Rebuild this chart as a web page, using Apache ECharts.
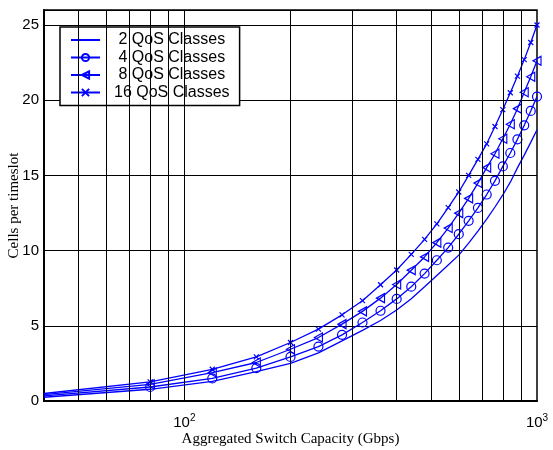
<!DOCTYPE html>
<html><head><meta charset="utf-8">
<script src="https://cdn.jsdelivr.net/npm/echarts@6/dist/echarts.min.js"></script>
<style>html,body{margin:0;padding:0;background:#fff}#c{width:553px;height:450px}</style>
</head><body><div id="c"></div>
<script>
// Aggregated switch capacity (Gbps)
const capacity = [40,80,120,160,200,240,280,320,360,400,440,480,520,560,600,640,680,720,760,800,840,880,920,960,1000];
// Cells per timeslot
const qos2  = [0.25,0.78,1.3,1.95,2.5,3.2,4.0,4.7,5.35,6.05,6.8,7.6,8.35,9.05,9.7,10.5,11.3,12.1,12.9,13.7,14.55,15.5,16.35,17.2,18.04];
const qos4  = [0.34,0.93,1.5,2.18,2.93,3.62,4.4,5.22,6.0,6.79,7.6,8.47,9.36,10.2,11.09,11.98,12.84,13.73,14.64,15.6,16.49,17.4,18.33,19.29,20.24];
const qos8  = [0.42,1.11,1.89,2.56,3.44,4.22,5.11,5.96,6.84,7.75,8.7,9.58,10.53,11.5,12.49,13.47,14.49,15.52,16.44,17.44,18.4,19.44,20.53,21.56,22.62];
const qos16 = [0.5,1.27,2.11,2.93,3.89,4.78,5.73,6.67,7.73,8.71,9.75,10.75,11.78,12.86,13.9,15.0,16.07,17.1,18.25,19.38,20.5,21.6,22.7,23.84,25.0];
const seriesNames = ['2 QoS Classes','4 QoS Classes','8 QoS Classes','16 QoS Classes'];
const xGridValues = [50,60,70,80,90,100,200,300,400,500,600,700,800,900];

const BLUE = '#0000ff';
const sans = 'Liberation Sans';
const serif = 'Liberation Serif';

function pts(vals){
  return capacity.map((x,i)=> i===0 ? {value:[x,vals[i]], symbol:'none'} : [x, vals[i]]);
}
function mk(name, vals, symbol, size, show){
  return {
    name: name, type:'line', data: pts(vals),
    symbol: symbol, symbolSize: size, showSymbol: show,
    lineStyle:{color:BLUE, width:1.3},
    itemStyle:{color:'rgba(0,0,0,0)', borderColor:BLUE, borderWidth: show ? 1.2 : 0},
    z: 3
  };
}

const chart = echarts.init(document.getElementById('c'), null, {renderer:'canvas'});
chart.setOption({
  animation:false,
  backgroundColor:'#fff',
  grid:{left:44, right:16, top:10, bottom:49, outerBoundsMode:'none', containLabel:false,
        show:true, borderColor:'#000', borderWidth:1.5, backgroundColor:'transparent'},
  legend:{
    data: seriesNames.map((n,i)=> i===0 ? {name:n, itemStyle:{opacity:0, borderWidth:0, color:'rgba(0,0,0,0)'}} : {name:n}),
    orient:'vertical', left:60, top:27,
    backgroundColor:'#fff', borderColor:'#000', borderWidth:1.5,
    padding:[5,10,5,10], itemWidth:29, itemHeight:9, itemGap:1.5,
    formatter: n => (n.length < 14 ? ' ' : '') + n,
    textStyle:{fontFamily:sans, fontSize:16, color:'#000', padding:[0,0,0,9]}
  },
  xAxis:{
    type:'log', logBase:10, min:40, max:1000,
    name:'Aggregated Switch Capacity (Gbps)', nameLocation:'middle', nameGap:31, nameMoveOverlap:false,
    nameTextStyle:{fontFamily:serif, fontSize:15, color:'#000'},
    axisLine:{show:true, lineStyle:{color:'#000', width:2}},
    axisTick:{show:false},
    splitLine:{show:false},
    axisLabel:{
      showMinLabel:false, margin:12, color:'#000',
      formatter: v => { const e = Math.log10(v); return Math.abs(e-Math.round(e))<1e-6 ? '{m|10}{s|'+Math.round(e)+'}' : ''; },
      rich:{ m:{fontFamily:sans, fontSize:15, color:'#000'}, s:{fontFamily:sans, fontSize:10, color:'#000', padding:[0,0,9,0]} }
    }
  },
  yAxis:{
    type:'value', min:0, max:26, interval:5,
    name:'Cells per timeslot', nameLocation:'middle', nameGap:22, nameMoveOverlap:false,
    nameTextStyle:{fontFamily:serif, fontSize:15, color:'#000'},
    axisLine:{show:true, lineStyle:{color:'#000', width:2}},
    axisTick:{show:false},
    splitLine:{show:true, lineStyle:{color:'#000', width:1}},
    axisLabel:{showMaxLabel:false, margin:5, fontFamily:sans, fontSize:15, color:'#000'}
  },
  series:[
    {
      name:'grid', type:'line', data:[], z:1, silent:true,
      markLine:{
        silent:true, symbol:'none', animation:false,
        label:{show:false},
        lineStyle:{color:'#000', width:1, type:'solid'},
        data: xGridValues.map(v=>({xAxis:v}))
      }
    },
    mk(seriesNames[0], qos2, 'circle', 0, false),
    mk(seriesNames[1], qos4, 'circle', 9, true),
    mk(seriesNames[2], qos8, 'path://M0,5L10,0L10,10Z', [8,9], true),
    mk(seriesNames[3], qos16, 'path://M0,0L10,10M10,0L0,10', 5, true)
  ]
});
</script>
</body></html>
